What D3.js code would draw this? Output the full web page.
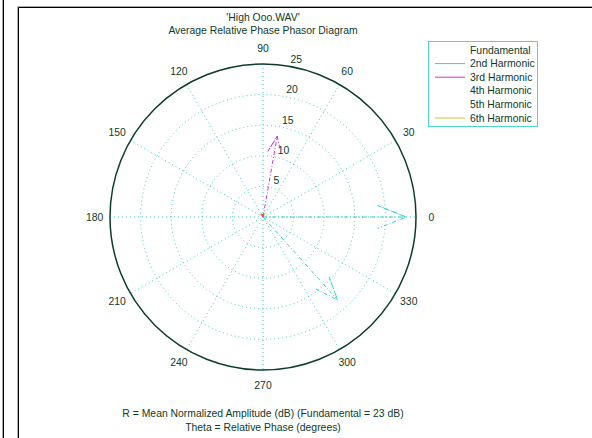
<!DOCTYPE html>
<html>
<head>
<meta charset="utf-8">
<script src="https://cdn.jsdelivr.net/npm/d3@7"></script>
<style>
  body { margin: 0; background: #fff; }
  svg { display: block; font-family: "Liberation Sans", Arial, sans-serif; }
</style>
</head>
<body>
<div id="chart"></div>
<script>
// Phasor data (dB, degrees)
const harmonics = ["Fundamental", "2nd Harmonic", "3rd Harmonic", "4th Harmonic", "5th Harmonic", "6th Harmonic"];
const amplitudes = [23.4, 18.2, 13.4, 0.6, 0.4, 0.5];
const phases = [0, 312, 80, 125, 100, 60];
const arrowColors = ["#3ccfd0", "#3ccfd0", "#c838c8", "#e03030", "#d05050", "#c8c830"];
const legendColors = ["none", "#3ccfd0", "#c838c8", "none", "none", "#c8c830"];
const ringTicks = [5, 10, 15, 20, 25];
const angleTicks = d3.range(0, 360, 30);

const width = 592;
const height = 438;
const cx = 263, cy = 217, R = 153;
const fs = 10.4;
const textColor = "#0d3a2a";
const gridColor = "#3fc9c0";

const svg = d3.select("#chart")
  .append("svg")
  .attr("width", width)
  .attr("height", height);

// window frames
svg.append("line").attr("x1", 3.5).attr("x2", 3.5).attr("y1", 0).attr("y2", height)
  .attr("stroke", "#000").attr("stroke-width", 1);
svg.append("line").attr("x1", 2.5).attr("x2", 2.5).attr("y1", 0).attr("y2", height)
  .attr("stroke", "#aaa").attr("stroke-width", 1);
svg.append("path").attr("d", `M18.5,${height} V7.5 H${width}`)
  .attr("fill", "none").attr("stroke", "#000").attr("stroke-width", 1);
svg.append("path").attr("d", `M17.5,${height} V6.5 H${width}`)
  .attr("fill", "none").attr("stroke", "#aaa").attr("stroke-width", 1);

const r = d3.scaleLinear().domain([0, 25]).range([0, R]);
const rad = d => d * Math.PI / 180;
const px = (v, a) => cx + r(v) * Math.cos(rad(a));
const py = (v, a) => cy - r(v) * Math.sin(rad(a));

const g = svg.append("g");

// dotted rings
g.selectAll(".ring")
  .data(ringTicks.slice(0, -1))
  .join("circle")
  .attr("class", "ring")
  .attr("cx", cx).attr("cy", cy)
  .attr("r", d => r(d))
  .attr("fill", "none")
  .attr("stroke", gridColor)
  .attr("stroke-dasharray", "1,3");

// spokes, full diameters
g.selectAll(".spoke")
  .data(d3.range(30, 181, 30))
  .join("line")
  .attr("class", "spoke")
  .attr("x1", d => px(25, d)).attr("y1", d => py(25, d))
  .attr("x2", d => px(25, d + 180)).attr("y2", d => py(25, d + 180))
  .attr("stroke", gridColor)
  .attr("stroke-dasharray", "1,3");

// outer circle
g.append("circle")
  .attr("cx", cx).attr("cy", cy).attr("r", R)
  .attr("fill", "none")
  .attr("stroke", "#0c3c2c")
  .attr("stroke-width", 1.5);

// ring labels at 82 degrees
g.selectAll(".rlabel")
  .data(ringTicks)
  .join("text")
  .attr("class", "rlabel")
  .attr("x", d => px(d + 0.25, 82) + 6)
  .attr("y", d => py(d + 0.25, 82) - 1)
  .attr("font-size", fs)
  .attr("fill", textColor)
  .text(d => d);

// angle labels
g.selectAll(".alabel")
  .data(angleTicks)
  .join("text")
  .attr("class", "alabel")
  .attr("x", d => cx + 1.1 * R * Math.cos(rad(d)))
  .attr("y", d => cy - 1.1 * R * Math.sin(rad(d)))
  .attr("text-anchor", "middle")
  .attr("dy", "0.35em")
  .attr("font-size", fs)
  .attr("fill", textColor)
  .text(d => d);

// compass style arrows
const arrow = (v, a) => {
  const pts = [[0, 0], [1, 0], [0.8, 0.08], [1, 0], [0.8, -0.08]];
  const c = Math.cos(rad(a)), s = Math.sin(rad(a));
  return pts.map(([u, w]) => [
    cx + r(v) * (u * c - w * s),
    cy - r(v) * (u * s + w * c)
  ]);
};
const line = d3.line();

g.selectAll(".phasor")
  .data(d3.range(harmonics.length).reverse())
  .join("path")
  .attr("class", "phasor")
  .attr("d", i => line(arrow(amplitudes[i], phases[i])))
  .attr("fill", "none")
  .attr("stroke", i => arrowColors[i])
  .attr("stroke-width", 1)
  .attr("stroke-dasharray", "4,2,1,2");

// title
svg.append("text").attr("x", 263).attr("y", 21).attr("text-anchor", "middle")
  .attr("font-size", fs).attr("fill", textColor).text("'High Ooo.WAV'");
svg.append("text").attr("x", 263).attr("y", 34).attr("text-anchor", "middle")
  .attr("font-size", fs).attr("fill", textColor).text("Average Relative Phase Phasor Diagram");

// axis captions
svg.append("text").attr("x", 263).attr("y", 417).attr("text-anchor", "middle")
  .attr("font-size", fs).attr("fill", textColor)
  .text("R = Mean Normalized Amplitude (dB) (Fundamental = 23 dB)");
svg.append("text").attr("x", 263).attr("y", 431).attr("text-anchor", "middle")
  .attr("font-size", fs).attr("fill", textColor)
  .text("Theta = Relative Phase (degrees)");

// legend
const legend = svg.append("g").attr("transform", "translate(428,41)");
legend.append("rect")
  .attr("x", 0.5).attr("y", 0.5).attr("width", 109).attr("height", 85)
  .attr("fill", "#fff").attr("stroke", "#4fd3d3");
const items = legend.selectAll(".item")
  .data(harmonics)
  .join("g")
  .attr("class", "item")
  .attr("transform", (d, i) => `translate(0,${9 + i * 13.6})`);
items.append("line")
  .attr("x1", 7).attr("x2", 37).attr("y1", 0).attr("y2", 0)
  .attr("stroke", (d, i) => legendColors[i]);
items.append("text")
  .attr("x", 42).attr("dy", "0.35em")
  .attr("font-size", fs).attr("fill", textColor)
  .text(d => d);
</script>
</body>
</html>
